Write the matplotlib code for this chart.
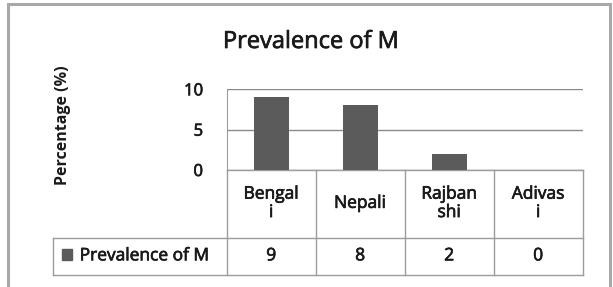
import matplotlib
matplotlib.use('Agg')
import matplotlib.pyplot as plt
import matplotlib.patheffects as pe
from matplotlib.patches import Rectangle
from matplotlib.transforms import blended_transform_factory

# chart data
categories = ['Bengali', 'Nepali', 'Rajbanshi', 'Adivasi']
category_labels = ['Bengal\ni', 'Nepali', 'Rajban\nshi', 'Adivas\ni']
prevalence = [9, 8, 2, 0]
series_name = 'Prevalence of M'
y_ticks = [0, 5, 10]

plt.rcParams['font.family'] = ['Open Sans', 'DejaVu Sans']

bar_color = '#5b5b5b'
line_color = '#9c9c9c'
text_color = '#1a1a1a'
# thicken the strokes a little, the reference text is heavy
heavy = [pe.withStroke(linewidth=0.5, foreground=text_color)]

fig = plt.figure(figsize=(6.13, 2.87), dpi=100)

# outer chart border
fig.add_artist(Rectangle((8 / 613, -0.1), 602 / 613, 1.1 - 4 / 287,
                         transform=fig.transFigure, fill=False,
                         edgecolor='#a8a8a8', linewidth=2.2))

ax = fig.add_axes([226.7 / 613, 1 - 170 / 287, 356 / 613, 80.7 / 287])

x = list(range(len(categories)))
ax.bar(x, prevalence, width=0.39, color=bar_color, zorder=3)
ax.set_xlim(-0.5, len(categories) - 0.5)
ax.set_ylim(0, 10)
ax.set_yticks(y_ticks)
ax.set_xticks([])
ax.yaxis.grid(True, color='#8a8a8a', linewidth=1.0)
ax.tick_params(axis='y', length=0, pad=17, labelsize=12, labelcolor=text_color)
for t in ax.get_yticklabels():
    t.set_path_effects(heavy)
for s in ['top', 'right', 'bottom']:
    ax.spines[s].set_visible(False)
ax.spines['left'].set_color(line_color)

fig.text(311 / 613, 1 - 42 / 287, 'Prevalence of M', ha='center', va='center',
         fontsize=17, color=text_color, path_effects=heavy)
fig.text(63 / 613, 1 - 125 / 287, 'Percentage (%)', ha='center', va='center',
         rotation=90, fontsize=11.5, fontweight='bold', color=text_color)

# data table under the chart
tr = blended_transform_factory(ax.transData, ax.transAxes)
mid = -0.839
bot = -1.301
left = -0.489
kw = dict(color=line_color, linewidth=1.0, clip_on=False)
for i in range(len(categories) + 1):
    ax.plot([i - 0.5, i - 0.5], [0, bot], transform=tr, **kw)
ax.plot([0, 1], [0, 0], transform=ax.transAxes, **kw)
ax.plot([left, 1], [mid, mid], transform=ax.transAxes, **kw)
ax.plot([left, 1], [bot, bot], transform=ax.transAxes, **kw)
ax.plot([left, left], [mid, bot], transform=ax.transAxes, **kw)

for i, (lab, val) in enumerate(zip(category_labels, prevalence)):
    ax.text(i, mid / 2, lab, transform=tr, ha='center', va='center',
            fontsize=12.5, linespacing=1.2, color=text_color, path_effects=heavy)
    ax.text(i, (mid + bot) / 2, str(val), transform=tr, ha='center',
            va='center', fontsize=12.5, color=text_color, path_effects=heavy)

# legend key in the row header cell
ax.add_patch(Rectangle((-0.463, -1.115), 0.028, 0.136, transform=ax.transAxes,
                       color=bar_color, clip_on=False))
ax.text(-0.413, (mid + bot) / 2, series_name, transform=ax.transAxes,
        ha='left', va='center', fontsize=12.5, color=text_color,
        path_effects=heavy)

fig.savefig('out.png', dpi=100)
